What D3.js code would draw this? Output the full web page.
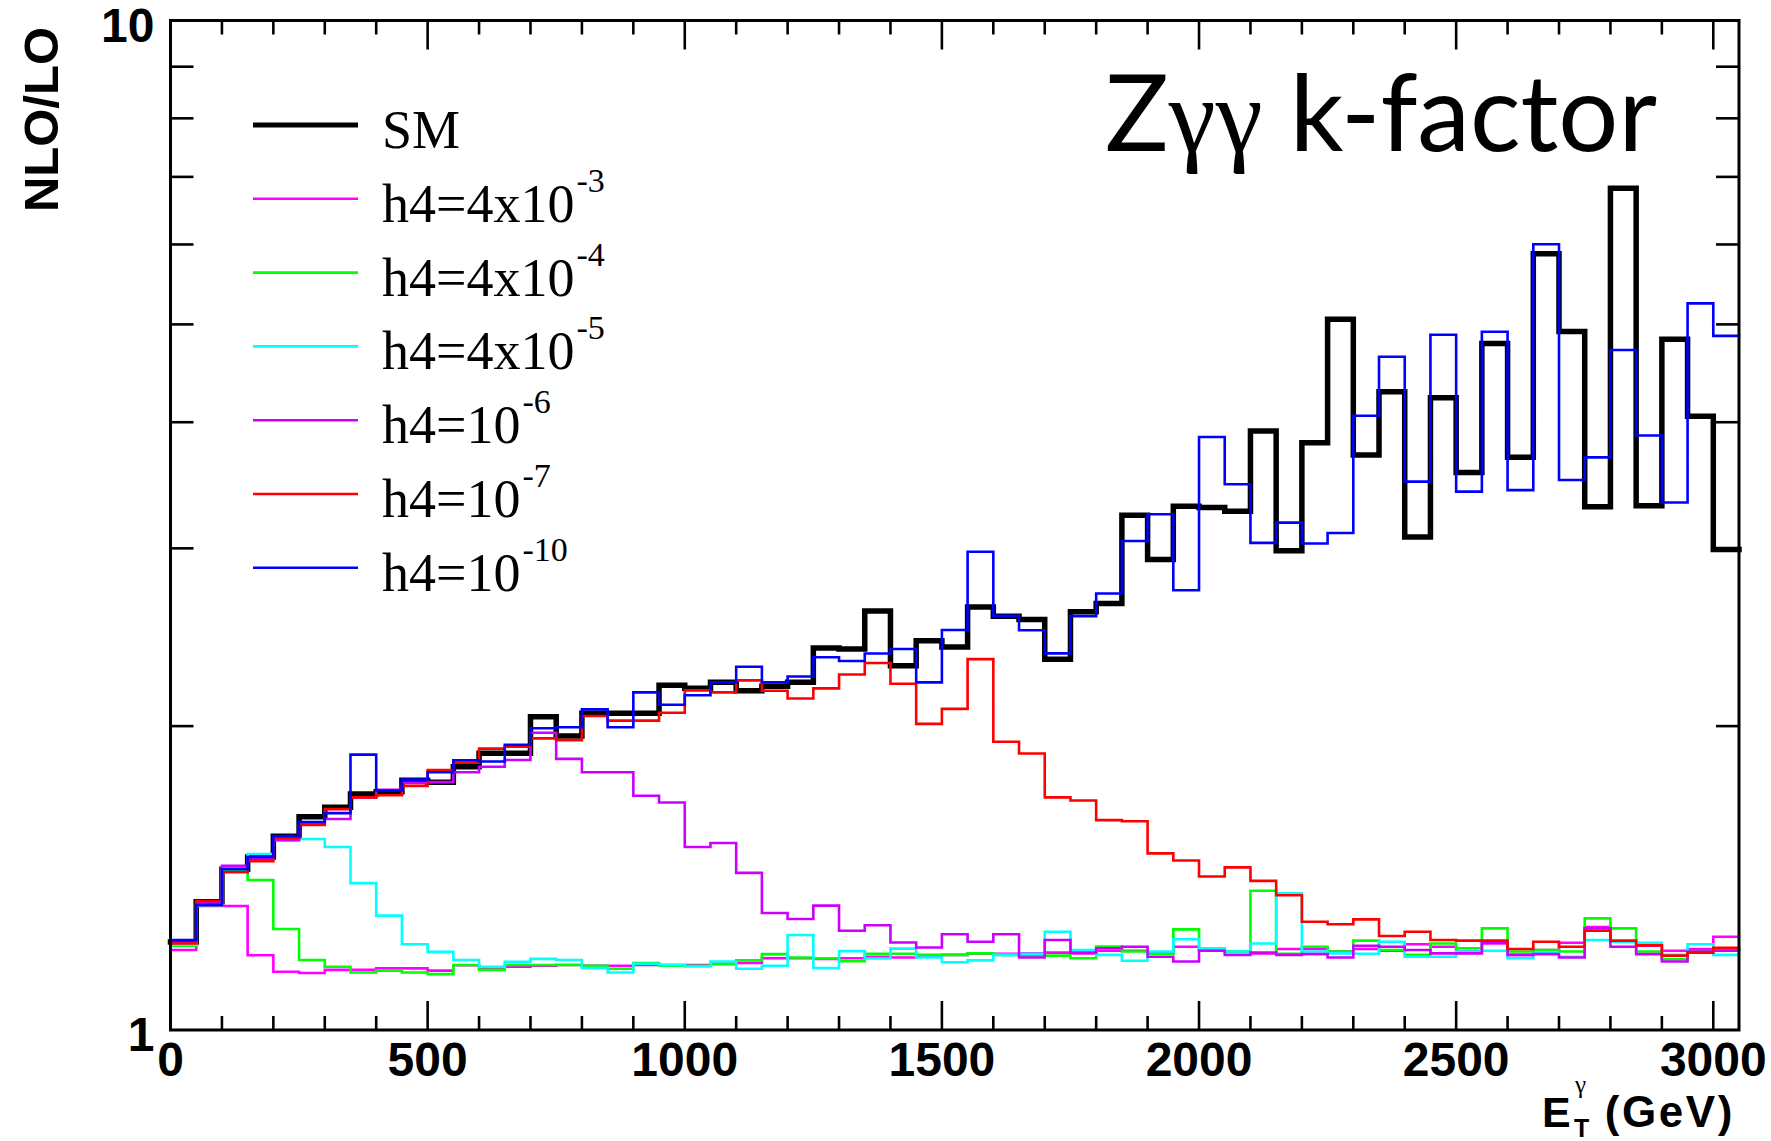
<!DOCTYPE html>
<html><head><meta charset="utf-8">
<script src="https://cdn.jsdelivr.net/npm/d3@7"></script>
<style>html,body{margin:0;padding:0;background:#fff}</style>
</head><body>
<svg id="chart" width="1771" height="1141"></svg>
<script>
// ---- categories: low edges of the 50 GeV bins (E_T^gamma, GeV) ----
const binLowEdges = [0,50,100,150,200,250,300,350,400,450,500,550,600,650,700,750,800,850,900,950,
  1000,1050,1100,1150,1200,1250,1300,1350,1400,1450,1500,1550,1600,1650,1700,1750,1800,1850,1900,1950,
  2000,2050,2100,2150,2200,2250,2300,2350,2400,2450,2500,2550,2600,2650,2700,2750,2800,2850,2900,2950,3000];
const xMax = 3050;

// ---- series values (NLO/LO) ----
const sm = [1.222,1.340,1.443,1.484,1.556,1.626,1.662,1.713,1.722,1.768,1.760,1.823,1.880,1.880,2.043,1.955,2.060,2.060,2.060,2.195,
  2.180,2.210,2.168,2.190,2.210,2.390,2.385,2.600,2.295,2.430,2.395,2.624,2.570,2.550,2.330,2.596,2.645,3.235,2.924,3.302,
  3.293,3.265,3.920,2.983,3.818,5.060,3.712,4.287,3.078,4.229,3.567,4.786,3.692,5.875,4.920,3.298,6.820,3.306,4.834,4.055,2.992];
const h4_4e3 = [1.200,1.327,1.327,1.186,1.142,1.139,1.147,1.147,1.151,1.151,1.145,1.159,1.151,1.155,1.158,1.160,1.158,1.158,1.160,1.160,
  1.160,1.163,1.165,1.178,1.178,1.176,1.178,1.182,1.180,1.183,1.187,1.190,1.190,1.191,1.193,1.191,1.198,1.198,1.191,1.209,
  1.200,1.196,1.191,1.203,1.203,1.196,1.203,1.198,1.216,1.209,1.196,1.218,1.187,1.200,1.220,1.265,1.223,1.212,1.198,1.203,1.237];
const h4_4e4 = [1.212,1.330,1.440,1.408,1.259,1.173,1.155,1.140,1.145,1.140,1.136,1.160,1.147,1.160,1.160,1.160,1.158,1.150,1.165,1.158,
  1.158,1.162,1.172,1.189,1.180,1.177,1.170,1.190,1.190,1.187,1.187,1.191,1.187,1.185,1.185,1.178,1.210,1.196,1.190,1.258,
  1.200,1.196,1.374,1.190,1.209,1.196,1.226,1.200,1.187,1.218,1.205,1.261,1.196,1.200,1.196,1.290,1.261,1.196,1.175,1.196,1.200];
const h4_4e5 = [1.215,1.330,1.445,1.494,1.542,1.546,1.518,1.398,1.298,1.216,1.195,1.173,1.155,1.168,1.176,1.173,1.152,1.140,1.163,1.160,
  1.156,1.169,1.150,1.158,1.242,1.152,1.197,1.177,1.204,1.180,1.167,1.172,1.187,1.190,1.251,1.200,1.187,1.171,1.196,1.230,
  1.205,1.196,1.218,1.366,1.196,1.191,1.190,1.223,1.182,1.182,1.196,1.198,1.178,1.191,1.182,1.228,1.223,1.220,1.187,1.216,1.187];
const h4_1e6 = [1.220,1.340,1.454,1.480,1.542,1.600,1.618,1.700,1.730,1.757,1.760,1.800,1.823,1.851,1.970,1.856,1.800,1.800,1.706,1.680,
  1.518,1.532,1.431,1.306,1.288,1.328,1.254,1.270,1.221,1.207,1.244,1.223,1.244,1.180,1.228,1.193,1.205,1.209,1.182,1.169,
  1.198,1.187,1.193,1.187,1.189,1.180,1.212,1.209,1.200,1.191,1.191,1.220,1.187,1.189,1.180,1.261,1.209,1.189,1.169,1.196,1.198];
const h4_1e7 = [1.218,1.342,1.433,1.470,1.550,1.596,1.655,1.700,1.708,1.745,1.809,1.840,1.900,1.908,1.945,1.937,2.047,2.025,2.025,2.062,
  2.170,2.160,2.220,2.168,2.130,2.180,2.250,2.310,2.203,2.010,2.080,2.330,1.930,1.879,1.700,1.688,1.614,1.610,1.496,1.472,
  1.419,1.449,1.405,1.360,1.280,1.273,1.287,1.239,1.251,1.228,1.226,1.226,1.203,1.223,1.209,1.254,1.226,1.213,1.185,1.193,1.206];
const h4_1e10 = [1.228,1.330,1.443,1.484,1.556,1.607,1.640,1.874,1.727,1.770,1.800,1.850,1.845,1.917,1.990,1.995,2.078,1.995,2.160,2.100,
  2.146,2.210,2.290,2.210,2.240,2.340,2.320,2.360,2.385,2.210,2.490,2.977,2.572,2.489,2.361,2.570,2.706,3.051,3.243,2.727,
  3.868,3.472,3.038,3.181,3.033,3.107,4.060,4.645,3.493,4.883,3.414,4.917,3.426,6.003,3.506,3.692,4.716,3.880,3.331,5.245,4.871];

// ---- legend / series labels ----
const seriesNames = ["SM","h4=4x10","h4=4x10","h4=4x10","h4=10","h4=10","h4=10"];
const seriesExponents = ["","-3","-4","-5","-6","-7","-10"];
const seriesColors = ["#000000","#ff00ff","#00ff00","#00ffff","#cc00ff","#ff0000","#0000ff"];
const seriesValues = [sm,h4_4e3,h4_4e4,h4_4e5,h4_1e6,h4_1e7,h4_1e10];

// ---- tick labels ----
const xMajorTicks = [0,500,1000,1500,2000,2500,3000];
const xMinorTicks = [100,200,300,400,600,700,800,900,1100,1200,1300,1400,1600,1700,1800,1900,2100,2200,2300,2400,2600,2700,2800,2900];
const yMinorTicks = [2,3,4,5,6,7,8,9];
const yLabelTicks = [1,10];

// ================= drawing =================
const svg = d3.select("#chart");
svg.append("rect").attr("width",1771).attr("height",1141).attr("fill","#fff");

const L=170.5, R=1739, T=20.5, B=1030;
const x = d3.scaleLinear().domain([0,xMax]).range([L,R]);
const y = d3.scaleLog().domain([1,10]).range([B,T]);
const axisFont = "'Liberation Sans', Arial, Helvetica, sans-serif";
const serif = "'Liberation Serif', 'Times New Roman', serif";

// series
const line = d3.line().curve(d3.curveStepAfter).x(d=>x(d[0])).y(d=>y(d[1]));
seriesValues.forEach((vals,i)=>{
  const pts = binLowEdges.map((e,k)=>[e, vals[k]]);
  pts.push([xMax, vals[vals.length-1]]);
  svg.append("path").datum(pts).attr("d",line)
    .attr("fill","none").attr("stroke",seriesColors[i])
    .attr("stroke-width", i===0 ? 5.5 : 2.6)
    .attr("stroke-linejoin","miter").attr("stroke-linecap","square");
});

// frame
svg.append("rect").attr("x",L).attr("y",T).attr("width",R-L).attr("height",B-T)
  .attr("fill","none").attr("stroke","#000").attr("stroke-width",3);

// ticks
const tk = svg.append("g").attr("stroke","#000").attr("stroke-width",2.6);
xMinorTicks.forEach(v=>{
  tk.append("line").attr("x1",x(v)).attr("x2",x(v)).attr("y1",B).attr("y2",B-14);
  tk.append("line").attr("x1",x(v)).attr("x2",x(v)).attr("y1",T).attr("y2",T+14);
});
xMajorTicks.forEach(v=>{
  tk.append("line").attr("x1",x(v)).attr("x2",x(v)).attr("y1",B).attr("y2",B-29);
  tk.append("line").attr("x1",x(v)).attr("x2",x(v)).attr("y1",T).attr("y2",T+29);
});
yMinorTicks.forEach(v=>{
  tk.append("line").attr("x1",L).attr("x2",L+23).attr("y1",y(v)).attr("y2",y(v));
  tk.append("line").attr("x1",R).attr("x2",R-23).attr("y1",y(v)).attr("y2",y(v));
});

// tick labels
svg.append("g").selectAll("text").data(xMajorTicks).join("text")
  .attr("x",d=>x(d)).attr("y",B+46).attr("text-anchor","middle")
  .attr("font-family",axisFont).attr("font-weight","bold").attr("font-size",48)
  .text(d=>String(d));
svg.append("g").selectAll("text").data(yLabelTicks).join("text")
  .attr("x",L-16).attr("y",d=>y(d)+21).attr("text-anchor","end")
  .attr("font-family",axisFont).attr("font-weight","bold").attr("font-size",48)
  .text(d=>String(d));

// y title
svg.append("text").attr("transform","translate(58,27) rotate(-90)")
  .attr("text-anchor","end").attr("font-family",axisFont).attr("font-weight","bold")
  .attr("font-size",49).text("NLO/LO");

// x title: E_T^gamma (GeV)
const xt = svg.append("g").attr("font-family",axisFont).attr("font-weight","bold");
xt.append("text").attr("x",1542).attr("y",1127).attr("font-size",43).attr("letter-spacing",1).text("E");
xt.append("text").attr("x",1574).attr("y",1137).attr("font-size",25).text("T");
xt.append("text").attr("x",1575).attr("y",1093).attr("font-family",serif)
  .attr("font-weight","normal").attr("font-size",25).text("γ");
xt.append("text").attr("x",1735).attr("y",1127).attr("text-anchor","end")
  .attr("font-size",44).attr("letter-spacing",2.6).text("(GeV)");

// legend
const leg = svg.append("g");
seriesNames.forEach((name,i)=>{
  const ly = 125 + i*73.8;
  leg.append("line").attr("x1",253).attr("x2",358).attr("y1",ly).attr("y2",ly)
    .attr("stroke",seriesColors[i]).attr("stroke-width", i===0 ? 5 : 2.6);
  const t = leg.append("text").attr("x",382).attr("y",ly+23)
    .attr("font-family",serif).attr("font-size",54).text(name);
  if (seriesExponents[i]) {
    t.append("tspan").attr("dy",-30).attr("dx",2).attr("font-size",34).text(seriesExponents[i]);
  }
});

// title
const title = svg.append("text").attr("x",1105).attr("y",151)
  .attr("font-family","Lato, 'Open Sans', sans-serif").attr("font-size",106);
title.append("tspan").text("Z");
title.append("tspan").attr("font-family",serif).text("γγ");
title.append("tspan").text(" k-factor");
const tw = title.node().getComputedTextLength();
const target = 552;
title.attr("letter-spacing", ((target - tw)/12).toFixed(2));
</script>
</body></html>
